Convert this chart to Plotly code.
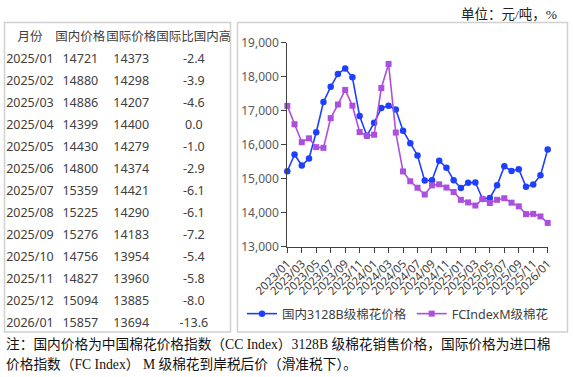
import plotly.graph_objects as go

# ---------------- data ----------------
months = [f"{y}/{m:02d}" for y in (2023, 2024, 2025) for m in range(1, 13)] + ["2026/01"]

domestic = [15215, 15708, 15383, 15590, 16365, 17255, 17700, 18080, 18240, 17980, 16840, 16260,
            16640, 17075, 17145, 17030, 16410, 16040, 15680, 14940, 14950, 15525, 15320, 14950,
            14721, 14880, 14886, 14399, 14430, 14800, 15359, 15225, 15276, 14756, 14827, 15094,
            15857]
international = [17140, 16600, 16070, 16185, 15925, 15905, 16780, 17180, 17610, 17145, 16370, 16260,
                 16290, 17665, 18375, 16355, 15210, 14920, 14730, 14530, 14800, 14830, 14735, 14605,
                 14373, 14298, 14207, 14400, 14279, 14374, 14421, 14290, 14183, 13954, 13960, 13885,
                 13694]

table_header = ["月份", "国内价格", "国际价格", "国际比国内高"]
table_months = ["2025/01", "2025/02", "2025/03", "2025/04", "2025/05", "2025/06", "2025/07",
                "2025/08", "2025/09", "2025/10", "2025/11", "2025/12", "2026/01"]
table_dom = [14721, 14880, 14886, 14399, 14430, 14800, 15359, 15225, 15276, 14756, 14827, 15094, 15857]
table_intl = [14373, 14298, 14207, 14400, 14279, 14374, 14421, 14290, 14183, 13954, 13960, 13885, 13694]
table_diff = ["-2.4", "-3.9", "-4.6", "0.0", "-1.0", "-2.9", "-6.1", "-6.1", "-7.2", "-5.4", "-5.8", "-8.0", "-13.6"]

series_names = ["国内3128B级棉花价格", "FCIndexM级棉花"]
note_lines = ["注：国内价格为中国棉花价格指数（CC Index）3128B 级棉花销售价格，国际价格为进口棉",
              "价格指数（FC Index） M 级棉花到岸税后价（滑准税下）。"]
unit_text = "单位：元/吨，%"

# ---------------- layout helpers ----------------
W, H = 573, 377
def px_x(x):
    return x / W
def px_y(y):
    return 1 - y / H

BLUE = "#1F3FFF"
PURPLE = "#AC4FDE"
SANS = "Noto Sans, Noto Sans CJK SC, sans-serif"
SERIF = "Liberation Serif, Noto Sans CJK SC, serif"

fig = go.Figure()

fig.add_trace(go.Table(
    domain=dict(x=[px_x(5), px_x(231.5)], y=[px_y(333), px_y(24)]),
    columnwidth=[50, 51, 51, 74.5],
    header=dict(values=table_header, align="center", height=22,
                fill_color="white", line=dict(color="white", width=0),
                font=dict(family=SANS, size=12.5, color="#404040")),
    cells=dict(values=[table_months, table_dom, table_intl, table_diff], align="center", height=22,
               fill_color="white", line=dict(color="white", width=0),
               font=dict(family=SANS, size=12.5, color="#404040")),
))

fig.add_trace(go.Scatter(
    x=months, y=domestic, name=series_names[0], mode="lines+markers",
    line=dict(color=BLUE, width=1.6), marker=dict(symbol="circle", size=6.5, color=BLUE),
    cliponaxis=False,
))
fig.add_trace(go.Scatter(
    x=months, y=international, name=series_names[1], mode="lines+markers",
    line=dict(color=PURPLE, width=1.6), marker=dict(symbol="square", size=6, color=PURPLE),
    cliponaxis=False,
))

fig.update_layout(
    width=W, height=H, margin=dict(l=0, r=0, t=0, b=0),
    paper_bgcolor="white", plot_bgcolor="white",
    font=dict(family=SANS, color="#404040"),
    xaxis=dict(domain=[px_x(287.3), px_x(547.7)], type="category", range=[0, 36],
               tickvals=months[::2], ticktext=months[::2], tickangle=-45,
               ticks="outside", ticklen=5, tickcolor="#404040", showline=True,
               linecolor="#404040", linewidth=1.2, showgrid=False, zeroline=False,
               tickfont=dict(family=SANS, size=11.5, color="#404040"), automargin=False),
    yaxis=dict(domain=[px_y(246.5), px_y(42.7)], range=[13000, 19000], dtick=1000,
               tickformat=",", ticks="outside", ticklen=5, tickcolor="#404040",
               showline=True, linecolor="#404040", linewidth=1.2, showgrid=False,
               zeroline=False, tickfont=dict(family=SANS, size=12, color="#595959"),
               automargin=False),
    showlegend=True,
    legend=dict(orientation="h", x=px_x(242), y=px_y(299), xanchor="left", yanchor="top",
                font=dict(family=SANS, size=12.5, color="#404040"), bgcolor="rgba(0,0,0,0)"),
    shapes=[
        dict(type="rect", xref="paper", yref="paper", x0=px_x(4.5), x1=px_x(230.5),
             y0=px_y(332), y1=px_y(22.5), line=dict(color="#D0D0D0", width=1.5)),
        dict(type="rect", xref="paper", yref="paper", x0=px_x(237.5), x1=px_x(567.5),
             y0=px_y(332), y1=px_y(22.5), line=dict(color="#D0D0D0", width=1.5)),
    ],
    annotations=[
        dict(text=unit_text, xref="paper", yref="paper", x=px_x(559), y=px_y(14),
             xanchor="right", yanchor="middle", showarrow=False,
             font=dict(family=SERIF, size=13.5, color="#222222")),
        dict(text=note_lines[0], xref="paper", yref="paper", x=px_x(4), y=px_y(344),
             xanchor="left", yanchor="middle", showarrow=False,
             font=dict(family=SERIF, size=13.7, color="#111111")),
        dict(text=note_lines[1], xref="paper", yref="paper", x=px_x(4), y=px_y(364),
             xanchor="left", yanchor="middle", showarrow=False,
             font=dict(family=SERIF, size=13.7, color="#111111")),
    ],
)

fig.write_html("out.html", config={"displayModeBar": False},
               post_script="document.body.style.margin='0';document.body.style.overflow='hidden';")
